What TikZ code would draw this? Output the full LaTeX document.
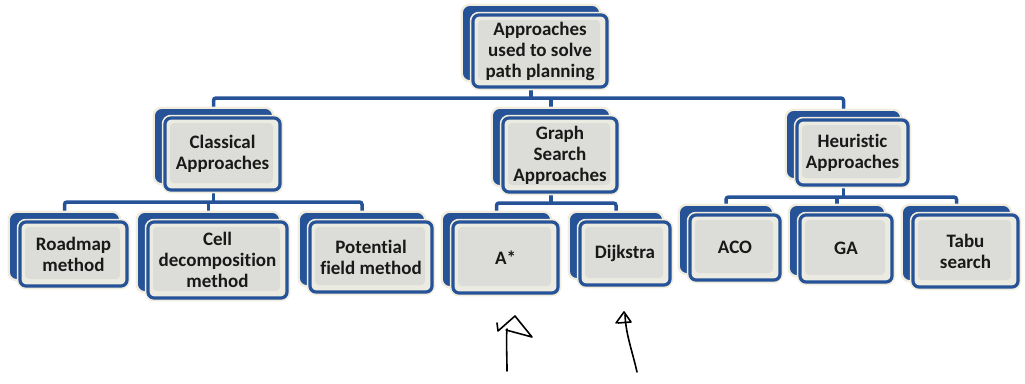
\documentclass[tikz,border=0pt]{standalone}
\usepackage{fontspec}
\setmainfont[Ligatures=NoCommon]{Carlito}
\definecolor{dblue}{RGB}{38,82,152}
\definecolor{cream}{RGB}{240,237,222}
\definecolor{boxgray}{RGB}{220,221,216}
\definecolor{boxlight}{RGB}{236,235,226}
\definecolor{txt}{RGB}{25,25,25}
\pgfdeclarelayer{connlayer}
\pgfsetlayers{connlayer,main}
\tikzset{
  backbox/.style={rounded corners=6pt, fill=dblue, draw=dblue, line width=2pt,
    preaction={draw=cream, line width=7pt}, inner sep=0pt},
  frontbox/.style={rounded corners=6pt, fill=boxlight, draw=dblue, line width=3.2pt,
    preaction={draw=cream, line width=6.5pt}, inner sep=0pt, align=center,
    text=txt, font=\bfseries\fontsize{19}{21}\selectfont,
    path picture={\fill[boxgray, rounded corners=4pt]
      ([shift={(5pt,-5pt)}]path picture bounding box.north west) rectangle
      ([shift={(-7pt,7pt)}]path picture bounding box.south east);}},
  conn/.style={draw=dblue, line width=3.5pt, rounded corners=2.5pt},
  hand/.style={draw=black, line width=1.6pt, line cap=round, line join=round}
}
\newcommand\mybox[6]{%
  \node[backbox, minimum width={(#4-#2)*1pt}, minimum height={(#5-#3)*1pt}]
    (#1B) at ({(#2+#4)/2-9},{(#3+#5)/2-8}) {};
  \node[frontbox, minimum width={(#4-#2)*1pt}, minimum height={(#5-#3)*1pt}]
    (#1) at ({(#2+#4)/2},{(#3+#5)/2}) {#6};}
\begin{document}
\begin{tikzpicture}[x=1pt,y=-1pt]
\useasboundingbox (0,0) rectangle (1025,383);
\mybox{root}{473}{15}{607}{87}{Approaches\\used to solve\\path planning}
\mybox{cls}{165}{118}{280}{190}{Classical\\Approaches}
\mybox{gr}{503}{118}{617}{192}{Graph\\Search\\Approaches}
\mybox{heu}{797}{120}{908}{185}{Heuristic\\Approaches}
\mybox{rm}{20}{222}{127}{286}{Roadmap\\method}
\mybox{cd}{148}{222}{287}{298}{Cell\\decomposition\\method}
\mybox{pf}{310}{222}{432}{292}{Potential\\field method}
\mybox{as}{453}{222}{558}{293}{A*}
\mybox{dj}{580}{222}{670}{285}{Dijkstra}
\mybox{aco}{690}{215}{780}{280}{ACO}
\mybox{ga}{800}{215}{892}{282}{GA}
\mybox{tab}{913}{215}{1018}{287}{Tabu\\search}
\coordinate (b1) at (548,98);
\coordinate (c1) at (210,202);
\coordinate (c2) at (548,203);
\coordinate (c3) at (842,197);
\begin{pgfonlayer}{connlayer}
\draw[conn] (clsB.center) |- (b1) -| (heuB.center);
\draw[conn] (rootB.center) -- (rootB.center |- b1);
\draw[conn] (grB.center) -- (grB.center |- b1);
\draw[conn] (rmB.center) |- (c1) -| (pfB.center);
\draw[conn] (clsB.center) -- (clsB.center |- c1);
\draw[conn] (cdB.center) -- (cdB.center |- c1);
\draw[conn] (asB.center) |- (c2) -| (djB.center);
\draw[conn] (grB.center) -- (grB.center |- c2);
\draw[conn] (acoB.center) |- (c3) -| (tabB.center);
\draw[conn] (heuB.center) -- (heuB.center |- c3);
\draw[conn] (gaB.center) -- (gaB.center |- c3);
\end{pgfonlayer}
% hand-drawn arrows
\draw[hand] (507,371) .. controls (507,355) and (506,340) .. (507,329);
\draw[hand] (497,323) -- (498,331) -- (515,316) -- (532,337) -- (506,330);
\draw[hand] (637,372) .. controls (632,350) and (626,335) .. (625,315);
\draw[hand] (616,323) -- (624,312) -- (631,322) -- (618,323);
\end{tikzpicture}
\end{document}
